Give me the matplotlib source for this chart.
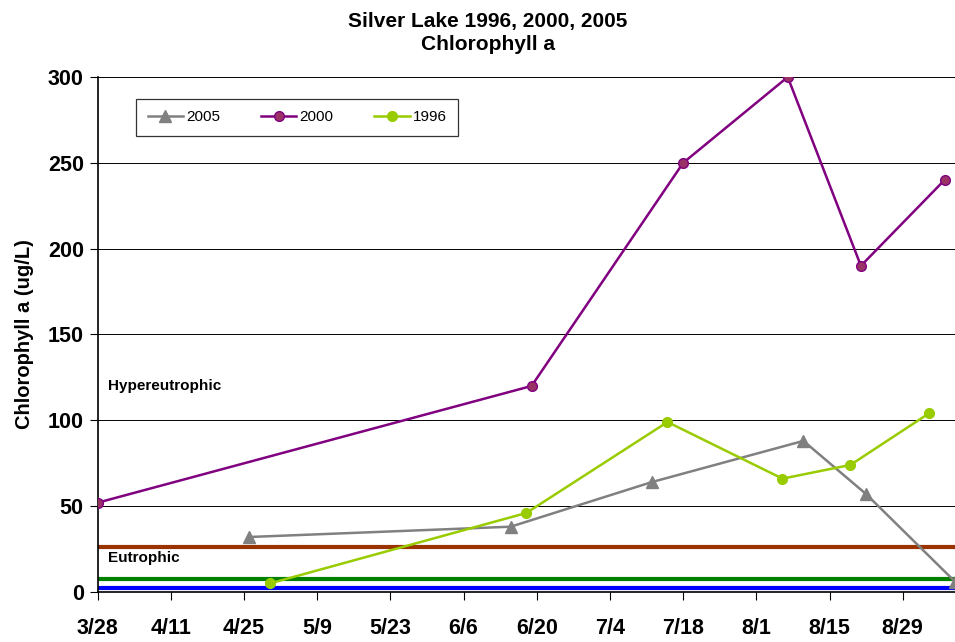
import matplotlib
matplotlib.use("Agg")
import matplotlib.pyplot as plt
import pandas as pd

plt.rcParams["font.family"] = ["Liberation Sans", "DejaVu Sans"]

# sample dates (month/day) and chlorophyll a values
dates_2005 = ["4/26", "6/15", "7/12", "8/10", "8/22", "9/8"]
chl_2005 = [32, 38, 64, 88, 57, 6]

dates_2000 = ["3/28", "6/19", "7/18", "8/7", "8/21", "9/6"]
chl_2000 = [52, 120, 250, 300, 190, 240]

dates_1996 = ["4/30", "6/18", "7/15", "8/6", "8/19", "9/3"]
chl_1996 = [5, 46, 99, 66, 74, 104]

# trophic thresholds
hyper_level = 26
eutro_level = 7.3
meso_level = 2

tick_dates = ["3/28", "4/11", "4/25", "5/9", "5/23", "6/6", "6/20",
              "7/4", "7/18", "8/1", "8/15", "8/29"]


def to_dt(md):
    return pd.to_datetime(["2000/" + d for d in md], format="%Y/%m/%d")


fig = plt.figure(figsize=(9.55, 6.42), dpi=100)
ax = fig.add_axes([0.1023, 0.078, 0.8977, 0.802])

x0, x1 = to_dt(["3/28", "9/8"])
ax.set_xlim(x0, x1)
ax.set_ylim(0, 300)

ax.axhline(hyper_level, color="#993300", lw=3, zorder=2)
ax.axhline(eutro_level, color="#008000", lw=3, zorder=2)
ax.axhline(meso_level, color="#0000FF", lw=3, zorder=2)

ax.plot(to_dt(dates_2005), chl_2005, color="#808080", lw=1.8, marker="^",
        ms=8, mfc="#808080", mec="#808080", label="2005", zorder=3)
ax.plot(to_dt(dates_2000), chl_2000, color="#800080", lw=1.8, marker="o",
        ms=7, mfc="#993366", mec="#800080", label="2000", zorder=3)
ax.plot(to_dt(dates_1996), chl_1996, color="#99CC00", lw=1.8, marker="o",
        ms=7, mfc="#99CC00", mec="#99CC00", label="1996", zorder=3)

ax.set_yticks(range(0, 301, 50))
ax.yaxis.grid(True, color="black", lw=0.7)
ax.set_axisbelow(True)

ax.set_xticks(to_dt(tick_dates))
ax.set_xticklabels(tick_dates)
ax.tick_params(axis="x", direction="out", length=6, pad=13, labelsize=15.5)
ax.tick_params(axis="y", direction="out", length=6, pad=4, labelsize=15.5)
for lbl in ax.get_xticklabels() + ax.get_yticklabels():
    lbl.set_fontweight("bold")

ax.spines["top"].set_visible(False)
ax.spines["right"].set_visible(False)
ax.spines["left"].set_linewidth(1.2)
ax.spines["bottom"].set_linewidth(1.2)

ax.set_ylabel("Chlorophyll a (ug/L)", fontsize=14.5, fontweight="bold", labelpad=10)

ax.text(to_dt(["3/30"])[0], 120, "Hypereutrophic", fontsize=11, fontweight="bold",
        va="center")
ax.text(to_dt(["3/30"])[0], 20, "Eutrophic", fontsize=11, fontweight="bold",
        va="center")

fig.text(0.511, 0.982, "Silver Lake 1996, 2000, 2005\nChlorophyll a",
         ha="center", va="top", fontsize=15, fontweight="bold", linespacing=1.3)

leg = ax.legend(loc="upper left", bbox_to_anchor=(0.0448, 0.958), ncol=3,
                frameon=True, fancybox=False, edgecolor="black", fontsize=11,
                handlelength=2.3, handletextpad=0.2, columnspacing=2.7,
                borderpad=0.75, borderaxespad=0)
leg.get_frame().set_linewidth(0.9)

fig.savefig("out.png", dpi=100)
